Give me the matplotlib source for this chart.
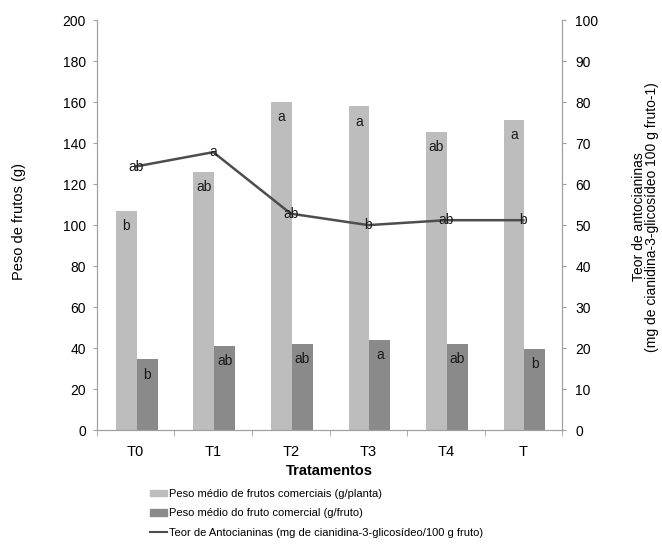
import numpy as np
import matplotlib.pyplot as plt
from matplotlib.patches import Patch
from matplotlib.lines import Line2D

plt.rcParams['font.family'] = ['Liberation Sans', 'DejaVu Sans']
plt.rcParams['font.size'] = 10

# Tratamentos
tratamentos = ['T0', 'T1', 'T2', 'T3', 'T4', 'T']

# Peso médio de frutos comerciais (g/planta) + letras do teste
peso_planta = [107, 126, 160, 158, 145.5, 151.5]
letras_planta = ['b', 'ab', 'a', 'a', 'ab', 'a']

# Peso médio do fruto comercial (g/fruto) + letras
peso_fruto = [34.5, 41, 42, 44, 42, 39.5]
letras_fruto = ['b', 'ab', 'ab', 'a', 'ab', 'b']

# Teor de antocianinas (eixo direito) + letras
antocianinas = [64.3, 67.8, 52.8, 50.0, 51.2, 51.2]
letras_antoc = ['ab', 'a', 'ab', 'b', 'ab', 'b']

cor_clara = '#bdbdbd'
cor_escura = '#8a8a8a'
cor_linha = '#4d4d4d'
cor_eixo = '#a0a0a0'

fig = plt.figure(figsize=(6.62, 5.6), dpi=100)
ax = fig.add_axes([0.1465, 0.232, 0.7025, 0.732])
ax2 = ax.twinx()

x = np.arange(len(tratamentos))
w = 0.27
b1 = ax.bar(x - 0.12, peso_planta, width=w, color=cor_clara, zorder=2)
b2 = ax.bar(x + 0.15, peso_fruto, width=w, color=cor_escura, zorder=2)

for rect, txt in zip(b1, letras_planta):
    ax.annotate(txt, (rect.get_x() + rect.get_width() / 2, rect.get_height()),
                xytext=(0, -11), textcoords='offset points',
                ha='center', va='center', fontsize=10, color='#1a1a1a')
for rect, txt in zip(b2, letras_fruto):
    ax.annotate(txt, (rect.get_x() + rect.get_width() / 2, rect.get_height()),
                xytext=(0, -11), textcoords='offset points',
                ha='center', va='center', fontsize=10, color='#1a1a1a')

ax2.plot(x, antocianinas, color=cor_linha, lw=1.8, zorder=3)
for xi, yi, txt in zip(x, antocianinas, letras_antoc):
    ax2.text(xi, yi, txt, ha='center', va='center', fontsize=10, color='#1a1a1a')

ax.set_xlim(-0.5, 5.5)
ax.set_ylim(0, 200)
ax.set_yticks(np.arange(0, 201, 20))
ax2.set_ylim(0, 100)
ax2.set_yticks(np.arange(0, 101, 10))

ax.set_xticks(x)
ax.set_xticklabels(tratamentos)
ax.set_xticks(np.arange(-0.5, 6, 1), minor=True)
ax.tick_params(axis='x', which='major', length=0, pad=11, labelsize=10.5)
ax.tick_params(axis='x', which='minor', length=4, color=cor_eixo)
ax.tick_params(axis='y', length=3, color=cor_eixo, labelsize=10, pad=5)
ax2.tick_params(axis='y', length=3, color=cor_eixo, labelsize=10, pad=6.5)

for a in (ax, ax2):
    a.spines['top'].set_visible(False)
    for s in ('left', 'right', 'bottom'):
        a.spines[s].set_color(cor_eixo)

ax.set_xlabel('Tratamentos', fontweight='bold', fontsize=10.5, labelpad=3)
ax.set_ylabel('Peso de frutos (g)', fontsize=10.5)
ax.yaxis.set_label_coords(-0.153, 0.51)
ax2.set_ylabel('Teor de antocianinas\n(mg de cianidina-3-glicosídeo 100 g fruto-1)',
               fontsize=10, linespacing=0.9)
ax2.yaxis.set_label_coords(1.15, 0.52)

handles = [
    Patch(color=cor_clara),
    Patch(color=cor_escura),
    Line2D([], [], color=cor_linha, lw=1.5),
]
labels = [
    'Peso médio de frutos comerciais (g/planta)',
    'Peso médio do fruto comercial (g/fruto)',
    'Teor de Antocianinas (mg de cianidina-3-glicosídeo/100 g fruto)',
]
fig.legend(handles, labels, loc='upper left', bbox_to_anchor=(0.218, 0.137),
           frameon=False, fontsize=8, handlelength=1.5, handleheight=0.5,
           handletextpad=0.25, labelspacing=0.85, borderpad=0)

fig.savefig('out.png', dpi=100)
